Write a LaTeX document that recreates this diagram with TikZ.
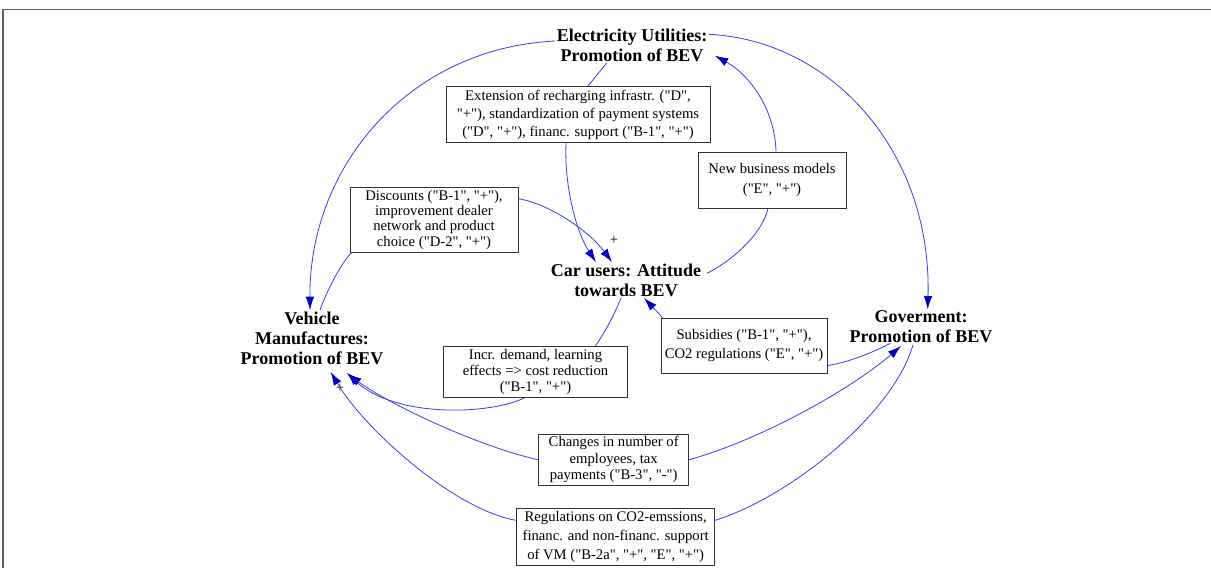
\documentclass[tikz,border=0pt]{standalone}
\usepackage{fontspec}
\setmainfont{Liberation Serif}[Ligatures=TeXOff]
\usetikzlibrary{arrows.meta}
\definecolor{linkblue}{RGB}{60,60,230}
\definecolor{arrowblue}{RGB}{0,0,195}
\definecolor{framegray}{RGB}{95,95,95}
\tikzset{
  lbl/.style={font=\fontsize{13.5}{15}\selectfont\bfseries, align=center, inner sep=1pt},
  infobox/.style={draw=black!80, line width=0.75pt, align=center, inner sep=1pt,
    font=\fontsize{11}{#1}\selectfont},
  infobox/.default=14,
  sgn/.style={font=\fontsize{11}{13}\selectfont, inner sep=0pt},
  link/.style={draw=linkblue, line width=0.6pt},
  arr/.style={link, -{Latex[length=10pt,width=6.5pt,color=arrowblue]}}
}
\begin{document}
\begin{tikzpicture}[x=0.75pt,y=-0.75pt]
\useasboundingbox (0,0) rectangle (1211,568);
\fill[white] (0,0) rectangle (1211,568);
\draw[framegray, line width=1.4pt] (3,568) -- (3,9.5) -- (1212,9.5);

% main variables
\node[lbl] (EU) at (632,45) {Electricity Utilities:\\Promotion of BEV};
\node[lbl] (CU) at (626,280) {Car users: Attitude\\towards BEV};
\node[lbl] (VM) at (312,338) {Vehicle\\Manufactures:\\Promotion of BEV};
\node[lbl] (GOV) at (921,327) {Goverment:\\Promotion of BEV};

% boxes
\node[infobox=13.5, minimum width=198pt, minimum height=42pt] (B1) at (578,114.5)
  {Extension of recharging infrastr. ("D",\\"+"), standardization of payment systems\\("D", "+"), financ. support ("B-1", "+")};
\node[infobox=14.5, minimum width=111pt, minimum height=42pt] (B2) at (772,180)
  {New business models\\("E", "+")};
\node[infobox=11.5, minimum width=126pt, minimum height=48.75pt] (B3) at (434,219.7)
  {Discounts ("B-1", "+"),\\improvement dealer\\network and product\\choice ("D-2", "+")};
\node[infobox=14, minimum width=124.5pt, minimum height=41.25pt] (B4) at (744,345.5)
  {Subsidies ("B-1", "+"),\\CO2 regulations ("E", "+")};
\node[infobox=12, minimum width=138pt, minimum height=38.25pt] (B5) at (535.5,371.7)
  {Incr. demand, learning\\effects => cost reduction\\("B-1", "+")};
\node[infobox=12.5, minimum width=112.5pt, minimum height=38.25pt] (B6) at (613.7,459.7)
  {Changes in number of\\employees, tax\\payments ("B-3", "-")};
\node[infobox=14, minimum width=148.5pt, minimum height=42.75pt] (B7) at (615.7,537)
  {Regulations on CO2-emssions,\\financ. and non-financ. support\\of VM ("B-2a", "+", "E", "+")};

% signs
\node[sgn] (p1) at (614,240) {+};
\node[sgn] (p2) at (340,388) {+};

% EU -> VM
\draw[arr] ([yshift=3pt]EU.west) .. controls (410,48) and (309,165) .. ([xshift=-1.5pt]VM.north);
% EU -> GOV
\draw[arr] ([yshift=8pt]EU.east) .. controls (830,40) and (932,150) .. ([xshift=5pt]GOV.north);
% EU -> B1 -> CU
\draw[link] ([xshift=-19pt]EU.south) -- ([xshift=7.5pt]B1.north);
\draw[arr] ([xshift=-9pt]B1.south) .. controls (564,190) and (578,235) .. ([xshift=-22.5pt]CU.north);
% VM -> B3 -> CU
\draw[link] ([xshift=6pt]VM.north) .. controls (327,290) and (342,262) .. ([xshift=1.5pt]B3.south west);
\draw[arr] ([yshift=-9pt]B3.north east) .. controls (550,204) and (590,232) .. ([xshift=-10.5pt]CU.north);
% CU -> B2 -> EU
\draw[link] ([xshift=3pt,yshift=5pt]CU.east) .. controls (730,262) and (762,235) .. ([xshift=-3pt]B2.south);
\draw[arr] ([xshift=3pt]B2.north) .. controls (775,110) and (750,75) .. ([xshift=4.5pt,yshift=5.5pt]EU.south east);
% CU -> B5 -> VM
\draw[link] ([xshift=-3.75pt]CU.south) .. controls (612,320) and (603,335) .. ([xshift=45pt]B5.north);
\draw[arr] ([xshift=-8pt]B5.south) .. controls (490,415) and (395,418) .. ([xshift=26pt,yshift=-5pt]VM.south);
% GOV -> B4 -> CU
\draw[link] ([xshift=-23pt,yshift=1pt]GOV.south) .. controls (870,354) and (845,363) .. ([yshift=6pt]B4.south east);
\draw[arr] ([xshift=1.5pt]B4.north west) -- ([xshift=13.5pt]CU.south);
% GOV -> B7 -> VM
\draw[link] ([xshift=-6pt]GOV.south) .. controls (895,410) and (795,495) .. ([yshift=12.5pt]B7.east);
\draw[arr] ([yshift=12.5pt]B7.west) .. controls (455,510) and (365,430) .. ([xshift=14pt,yshift=-4.5pt]VM.south);
% VM <-> B6 -> GOV
\draw[arr] (B6.west) .. controls (480,447) and (390,405) .. ([xshift=27pt,yshift=-6pt]VM.south);
\draw[arr] (B6.east) .. controls (760,440) and (850,390) .. ([xshift=-15pt,yshift=-1pt]GOV.south);
\end{tikzpicture}
\end{document}
